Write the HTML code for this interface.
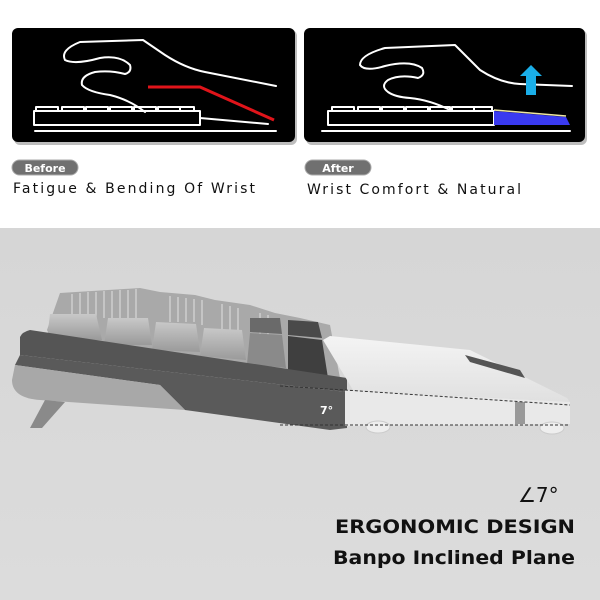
<!DOCTYPE html>
<html><head><meta charset="utf-8"><style>
html,body{margin:0;padding:0;background:#fff}
svg{display:block}
text{font-family:"DejaVu Sans","Liberation Sans",sans-serif}
</style></head><body>
<svg width="600" height="600" viewBox="0 0 600 600" xmlns="http://www.w3.org/2000/svg">
<defs>
<linearGradient id="bg" x1="0" y1="0" x2="0" y2="1"><stop offset="0" stop-color="#d6d6d6"/><stop offset="1" stop-color="#dcdcdc"/></linearGradient>
<linearGradient id="key" x1="0" y1="0" x2="0" y2="1"><stop offset="0" stop-color="#c8c8c8"/><stop offset="1" stop-color="#9a9a9a"/></linearGradient>
<linearGradient id="wr" x1="0" y1="0" x2="0" y2="1"><stop offset="0" stop-color="#f4f4f4"/><stop offset="1" stop-color="#e0e0e0"/></linearGradient>
</defs>
<rect width="600" height="228" fill="#fff"/>
<rect y="228" width="600" height="372" fill="url(#bg)"/>
<!-- panels -->
<rect x="14" y="30" width="283" height="115" rx="6" fill="#bdbdbd"/>
<rect x="12" y="28" width="283" height="114" rx="6" fill="#000"/>
<rect x="306" y="30" width="281" height="115" rx="6" fill="#bdbdbd"/>
<rect x="304" y="28" width="281" height="114" rx="6" fill="#000"/>
<g fill="none" stroke="#fff" stroke-width="2" stroke-linejoin="round" stroke-linecap="round">
<path d="M276,86 L205,72 Q185,68 165,55 L143,40 L80,42 Q60,50 65,60 Q75,65 100,58 Q120,55 130,65 Q132,72 125,74 Q110,70 95,72 Q80,76 82,85 Q88,92 110,95 Q130,100 145,112"/>
<path d="M35,131 L276,131 M34,125 L200,125 L200,111 L34,111 Z M200,118 L268,124"/>
<path d="M36,111 v-4 h22 v4 M62,111 v-4 h22 v4 M86,111 v-4 h22 v4 M110,111 v-4 h22 v4 M134,111 v-4 h22 v4 M158,111 v-4 h22 v4 M180,111 v-4 h14 v4"/>
<path d="M572,86 L520,84 Q500,83 480,70 L455,45 L385,48 Q360,55 360,65 Q365,72 385,66 Q410,60 422,68 Q426,75 418,78 Q400,74 388,80 Q380,86 388,92 Q395,97 410,98 Q430,100 450,110"/>
<path d="M322,131 L570,131 M328,125 L494,125 L494,111 L328,111 Z"/>
<path d="M332,111 v-4 h22 v4 M358,111 v-4 h22 v4 M382,111 v-4 h22 v4 M406,111 v-4 h22 v4 M430,111 v-4 h20 v4 M452,111 v-4 h22 v4 M474,111 v-4 h18 v4"/>
</g>
<path d="M148,87 L200,87 L274,120" fill="none" stroke="#e0141a" stroke-width="3"/>
<path d="M494,111 L566,117 L570,125 L494,125 Z" fill="#3a3af0"/>
<path d="M494,110 L566,116" stroke="#f0e8a0" stroke-width="1.5"/>
<path d="M526,76 L526,95 L536,95 L536,76 L542,76 L531,65 L520,76 Z" fill="#1aaee8"/>
<!-- pills -->
<rect x="12" y="160" width="66" height="15" rx="7.5" fill="#707070" stroke="#aaa"/>
<text x="45" y="172" font-size="11" font-weight="bold" fill="#fff" text-anchor="middle">Before</text>
<rect x="305" y="160" width="66" height="15" rx="7.5" fill="#707070" stroke="#aaa"/>
<text x="338" y="172" font-size="11" font-weight="bold" fill="#fff" text-anchor="middle">After</text>
<text x="13" y="193" font-size="14" fill="#111" textLength="242">Fatigue &amp; Bending Of Wrist</text>
<text x="307" y="194" font-size="14" fill="#111" textLength="214">Wrist Comfort &amp; Natural</text>
<!-- keyboard -->
<!-- back key rows -->
<path d="M47,330 L60,293 L140,288 L160,292 L195,295 L215,300 L250,305 L275,313 L300,318 L330,325 L340,378 L60,355 Z" fill="#a9a9a9"/>
<g stroke="#d8d8d8" stroke-width="1.2">
<path d="M72,294 L72,318 M80,293 V318 M88,292 V318 M96,292 V318 M104,291 V318 M112,291 V318 M120,290 V318 M128,290 V318 M136,289 V318 M170,296 V322 M178,297 V322 M186,298 V322 M194,299 V322 M202,300 V325 M222,304 V330 M230,306 V330 M238,308 V330 M260,313 V335 M268,315 V335"/>
</g>
<!-- front keycaps -->
<path d="M50,314 L96,314 L102,340 L47,340 Z" fill="url(#key)"/>
<path d="M108,318 L148,318 L152,345 L104,345 Z" fill="url(#key)"/>
<path d="M156,322 L196,324 L200,352 L152,350 Z" fill="url(#key)"/>
<path d="M204,328 L242,330 L246,360 L200,356 Z" fill="url(#key)"/>
<path d="M250,333 L282,335 L286,368 L247,364 Z" fill="#8a8a8a"/>
<path d="M288,336 L322,340 L328,378 L288,372 Z" fill="#3f3f3f"/>
<path d="M250,318 L280,318 L282,334 L250,332 Z" fill="#6a6a6a"/>
<path d="M288,320 L318,322 L322,338 L288,335 Z" fill="#4a4a4a"/>
<path d="M20,337 Q22,332 30,330 L347,378 L347,392 L20,355 Z" fill="#555"/>
<path d="M15,365 L20,355 L347,392 L347,428 L330,430 L185,410 L160,385 Z" fill="#5a5a5a"/>
<path d="M15,365 L160,385 L185,410 L40,400 Q12,398 12,380 Z" fill="#a8a8a8"/>
<path d="M45,400 L30,428 L42,428 L65,402 Z" fill="#8a8a8a"/>
<text x="320" y="414" font-size="11" font-weight="bold" fill="#fff" font-family="Liberation Sans">7°</text>
<!-- wrist rest -->
<path d="M323,340 L330,336 L470,350 L567,398 L570,402 L353,390 Z" fill="url(#wr)"/>
<path d="M465,355 L520,370 L525,378 L470,362 Z" fill="#555"/>
<path d="M345,390 L570,402 L570,424 L345,426 Z" fill="#e9e9e9"/>
<ellipse cx="378" cy="427" rx="12" ry="6" fill="#eee" stroke="#ccc"/>
<ellipse cx="552" cy="428" rx="12" ry="6" fill="#eee" stroke="#ccc"/>
<rect x="515" y="402" width="10" height="22" fill="#999"/>
<g fill="none" stroke="#333" stroke-width="1" stroke-dasharray="3,2">
<path d="M280,386 L345,390 L570,405 M280,425 L570,425"/>
</g>
<!-- text -->
<text x="518" y="502" font-size="20" fill="#111">∠7°</text>
<text x="335" y="533" font-size="19" font-weight="bold" fill="#111" textLength="240" lengthAdjust="spacingAndGlyphs">ERGONOMIC DESIGN</text>
<text x="333" y="564" font-size="19" font-weight="bold" fill="#111" textLength="242" lengthAdjust="spacingAndGlyphs">Banpo Inclined Plane</text>
</svg>
</body></html>
